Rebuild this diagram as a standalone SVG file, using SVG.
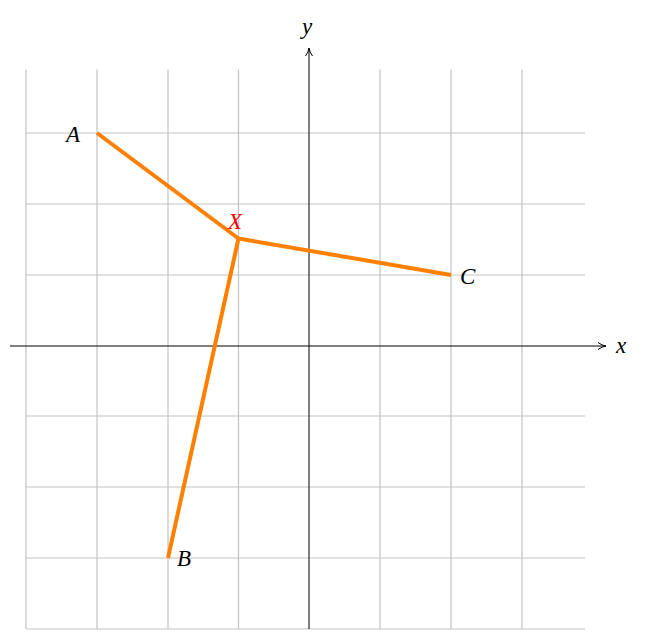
<svg xmlns="http://www.w3.org/2000/svg" width="668" height="632" viewBox="0 0 668 632">
<defs>
<style>
.grid{stroke:#c4c4c4;stroke-width:1.2;fill:none}
.axis{stroke:#000;stroke-width:1;fill:none}
.seg{stroke:#ff8000;stroke-width:4;fill:none;stroke-linecap:butt;stroke-linejoin:round}
.lbl{font-family:"Liberation Serif","Times New Roman",serif;font-style:italic;font-size:23px;fill:#000}
</style>
<marker id="arr" viewBox="0 0 10 10" refX="9" refY="5" markerWidth="10" markerHeight="10" markerUnits="userSpaceOnUse" orient="auto">
<path d="M1,1.5 Q5,4.5 9,5 Q5,5.5 1,8.5" fill="none" stroke="#000" stroke-width="1"/>
</marker>
</defs>
<rect width="668" height="632" fill="#fff"/>
<g id="grid" class="grid">
<path d="M26,69.5V629M97,69.5V629M168,69.5V629M238.5,69.5V629M380,69.5V629M451,69.5V629M522,69.5V629"/>
<path d="M26,133H585M26,204H585M26,275H585M26,416H585M26,487H585M26,558H585M26,629H585"/>
</g>
<g id="axes">
<line class="axis" x1="10" y1="346" x2="606" y2="346" marker-end="url(#arr)"/>
<line class="axis" x1="309" y1="629" x2="309" y2="48" marker-end="url(#arr)"/>
<text class="lbl" x="616" y="353">x</text>
<text class="lbl" x="302" y="34">y</text>
</g>
<g id="connectors">
<line class="seg" x1="97" y1="133" x2="238.5" y2="238.5"/>
<line class="seg" x1="168" y1="558" x2="238.5" y2="238.5"/>
<line class="seg" x1="451" y1="275" x2="238.5" y2="238.5"/>
</g>
<g id="A"><text class="lbl" x="66" y="142">A</text></g>
<g id="B"><text class="lbl" x="177" y="566">B</text></g>
<g id="C"><text class="lbl" x="460" y="284">C</text></g>
<g id="X"><text class="lbl" x="228" y="229" style="fill:#ff0000">X</text></g>
</svg>
